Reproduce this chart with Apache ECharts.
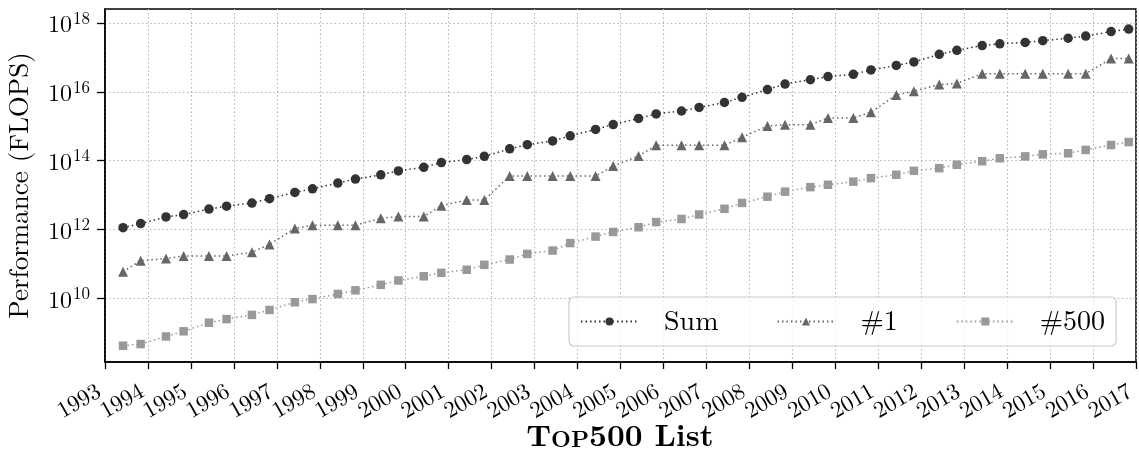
<!DOCTYPE html>
<html>
<head>
<meta charset="utf-8">
<script src="https://cdn.jsdelivr.net/npm/echarts@6/dist/echarts.min.js"></script>
<style>html,body{margin:0;padding:0;background:#fff}#c{width:1139px;height:452px}</style>
</head>
<body>
<div id="c"></div>
<script>
// TOP500 list dates (decimal years: June and November lists)
const listDates = [
  1993.42, 1993.83, 1994.42, 1994.83, 1995.42, 1995.83, 1996.42, 1996.83,
  1997.42, 1997.83, 1998.42, 1998.83, 1999.42, 1999.83, 2000.42, 2000.83,
  2001.42, 2001.83, 2002.42, 2002.83, 2003.42, 2003.83, 2004.42, 2004.83,
  2005.42, 2005.83, 2006.42, 2006.83, 2007.42, 2007.83, 2008.42, 2008.83,
  2009.42, 2009.83, 2010.42, 2010.83, 2011.42, 2011.83, 2012.42, 2012.83,
  2013.42, 2013.83, 2014.42, 2014.83, 2015.42, 2015.83, 2016.42, 2016.83
];
// Performance values in TFLOPS
const sumTF = [
  1.13, 1.49, 2.32, 2.73, 3.93, 4.78, 5.9, 7.9,
  12.0, 15.3, 22.4, 29.4, 39.0, 50.7, 64.3, 88.1,
  108, 134, 222, 293, 375, 528, 813, 1127,
  1690, 2300, 2790, 3540, 4920, 6970, 11700, 16950,
  22600, 27900, 32400, 43700, 58900, 74200, 123400, 162000,
  223000, 250000, 274000, 309000, 363000, 420000, 567000, 672000
];
const firstTF = [
  0.0597, 0.1245, 0.1434, 0.170, 0.170, 0.170, 0.2204, 0.3682,
  1.068, 1.338, 1.338, 1.338, 2.121, 2.379, 2.379, 4.938,
  7.226, 7.226, 35.86, 35.86, 35.86, 35.86, 35.86, 70.72,
  136.8, 280.6, 280.6, 280.6, 280.6, 478.2, 1026, 1105,
  1105, 1759, 1759, 2566, 8162, 10510, 16320, 17590,
  33860, 33860, 33860, 33860, 33860, 33860, 93010, 93010
];
const lastTF = [
  0.00042, 0.00047, 0.00078, 0.0011, 0.00196, 0.0025, 0.0033, 0.0046,
  0.0077, 0.0095, 0.0134, 0.0171, 0.0247, 0.0331, 0.0438, 0.0551,
  0.0678, 0.0943, 0.1343, 0.1958, 0.2451, 0.4034, 0.624, 0.8506,
  1.166, 1.646, 2.026, 2.737, 4.005, 5.929, 9.0, 12.64,
  17.09, 20.05, 24.67, 31.12, 39.1, 50.94, 60.82, 76.5,
  96.62, 117.8, 133.7, 153.4, 164.8, 206.3, 286.1, 349.3
];
const seriesNames = ['Sum', '#1', '#500'];
const yTickExponents = [10, 12, 14, 16, 18];
const xTickYears = [1993, 2017];
const xLabelsOdd = [1993, 1995, 1997, 1999, 2001, 2003, 2005, 2007, 2009, 2011, 2013, 2015, 2017];
const xLabelsEven = [1994, 1996, 1998, 2000, 2002, 2004, 2006, 2008, 2010, 2012, 2014, 2016];

const FONT = '"Latin Modern Roman", "CMU Serif", "Liberation Serif", "DejaVu Serif", serif';

function toPoints(tf) {
  return tf.map((v, i) => [listDates[i], Math.log10(v * 1e12)]);
}

const chart = echarts.init(document.getElementById('c'), null, {renderer: 'canvas'});

const gridDash = {color: '#b3b3b3', width: 1.1, type: [1.5, 2.6]};

function mkSeries(name, tf, color, symbol, size) {
  return {
    name: name,
    type: 'line',
    xAxisIndex: 0,
    data: toPoints(tf),
    symbol: symbol,
    symbolSize: size,
    showSymbol: true,
    itemStyle: {color: color, borderWidth: 0},
    lineStyle: {color: color, width: 1.5, type: [1.5, 3]},
    emphasis: {disabled: true},
    animation: false,
    z: 3
  };
}

function xLabelStyle(values) {
  return {
    customValues: values,
    rotate: 30, margin: 24, fontFamily: FONT, fontSize: 23, color: '#000',
    padding: [0, 7, 0, 0],
    hideOverlap: false,
    formatter: v => String(v)
  };
}

chart.setOption({
  animation: false,
  textStyle: {fontFamily: FONT},
  title: {
    text: '{a|T}{b|OP}{a|500 List}',
    left: 620, top: 418,
    textAlign: 'center',
    padding: 0,
    textStyle: {
      rich: {
        a: {fontFamily: FONT, fontSize: 31, color: '#000', verticalAlign: 'bottom', lineHeight: 34},
        b: {fontFamily: FONT, fontSize: 23, color: '#000', verticalAlign: 'bottom', lineHeight: 34, padding: [0, 0, 1, 0]}
      }
    }
  },
  grid: {
    left: 105, right: 3, top: 9, bottom: 90,
    containLabel: false,
    outerBoundsMode: 'none',
    show: true, borderColor: '#000', borderWidth: 1.5, backgroundColor: 'transparent'
  },
  legend: {
    data: seriesNames,
    left: 569, top: 297,
    padding: [10, 11, 10, 11],
    itemWidth: 57, itemHeight: 10,
    itemGap: 58,
    backgroundColor: 'rgba(255,255,255,0.8)',
    borderColor: '#cccccc', borderWidth: 1.2, borderRadius: 5,
    textStyle: {fontFamily: FONT, fontSize: 28, color: '#000', padding: [0, 0, 0, 21], lineHeight: 29},
    selectedMode: false
  },
  xAxis: [{
    type: 'value',
    position: 'bottom',
    min: xTickYears[0], max: xTickYears[1], interval: 1,
    axisLine: {show: true, lineStyle: {color: '#000', width: 1.5}},
    axisTick: {show: true, length: 7, lineStyle: {color: '#000', width: 1.3}},
    axisLabel: xLabelStyle(xLabelsOdd),
    splitLine: {show: true, lineStyle: gridDash}
  }, {
    type: 'value',
    position: 'bottom',
    offset: 0,
    min: xTickYears[0], max: xTickYears[1], interval: 1,
    axisLine: {show: false},
    axisTick: {show: false},
    axisLabel: xLabelStyle(xLabelsEven),
    splitLine: {show: false}
  }],
  yAxis: {
    type: 'value',
    min: 8.15, max: 18.41,
    name: 'Performance (FLOPS)',
    nameLocation: 'middle',
    nameGap: 72,
    nameTextStyle: {fontFamily: FONT, fontSize: 27, color: '#000'},
    axisLine: {show: true, lineStyle: {color: '#000', width: 1.5}},
    axisTick: {show: true, length: 8, lineStyle: {color: '#000', width: 1.3}, customValues: yTickExponents},
    axisLabel: {
      customValues: yTickExponents,
      margin: 15,
      formatter: v => '{b|10}{s|' + Math.round(v) + '}',
      rich: {
        b: {fontFamily: FONT, fontSize: 24, color: '#000', lineHeight: 28, verticalAlign: 'bottom'},
        s: {fontFamily: FONT, fontSize: 17, color: '#000', lineHeight: 28, verticalAlign: 'bottom', padding: [0, 0, 10, 1]}
      }
    },
    splitLine: {show: true, lineStyle: gridDash}
  },
  series: [
    mkSeries(seriesNames[0], sumTF, '#333333', 'circle', 9.5),
    mkSeries(seriesNames[1], firstTF, '#666666', 'triangle', 10),
    mkSeries(seriesNames[2], lastTF, '#999999', 'rect', 8.5)
  ]
});
</script>
</body>
</html>
